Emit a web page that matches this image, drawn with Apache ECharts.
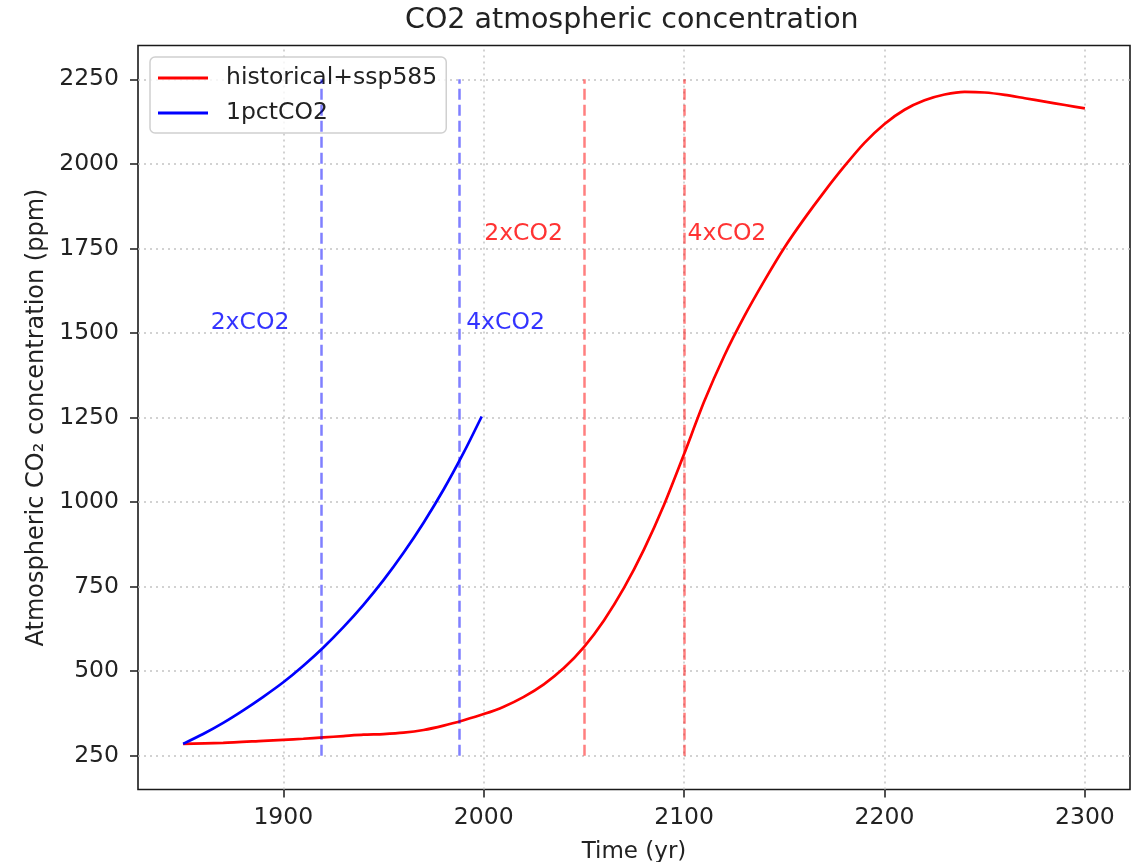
<!DOCTYPE html>
<html>
<head>
<meta charset="utf-8">
<script src="https://cdn.jsdelivr.net/npm/echarts@6/dist/echarts.min.js"></script>
<style>
html,body{margin:0;padding:0;background:#fff;}
#chart{width:1131px;height:862px;}
</style>
</head>
<body>
<div id="chart"></div>
<script>
// ---- data ----
const histYears = [1850,1870,1890,1900,1910,1920,1930,1940,1950,1960,1970,1980,1990,2000,2010,2020,2030,2040,2050,2060,2070,2080,2090,2100,2110,2120,2130,2140,2150,2160,2170,2180,2190,2200,2210,2220,2230,2240,2250,2260,2270,2280,2290,2300];
const histConc  = [285,288,294,297,300,304,308,312,314,318,326,339,355,373,395,424,461,509,571,650,746,860,992,1142,1297,1432,1549,1654,1752,1838,1918,1993,2062,2118,2160,2188,2205,2213,2211,2204,2194,2184,2174,2164];

const pctYears = [1850,1860,1870,1880,1890,1900,1910,1920,1930,1940,1950,1960,1970,1980,1990,1999];
const pctConc  = [285,314,347,384,424,467,516,570,630,696,769,850,939,1037,1146,1253];

const blueMarkYears = [1919, 1988];
const redMarkYears  = [2050, 2100];
const markBottom = 250, markTop = 2250;

const blueLabelX = [1864, 1991.5];
const blueLabelY = 1505;
const redLabelX  = [2000.5, 2102];
const redLabelY  = 1768;
const markLabels = ['2xCO2', '4xCO2'];

const xTicks = [1900, 2000, 2100, 2200, 2300];
const yTicks = [250, 500, 750, 1000, 1250, 1500, 1750, 2000, 2250];
const xMin = 1827.5, xMax = 2322.5, yMin = 150, yMax = 2350;

const seriesNames = ['historical+ssp585', '1pctCO2'];
const seriesColors = ['#ff0000', '#0000ff'];
const titleText = 'CO2 atmospheric concentration';
const xName = 'Time (yr)';
const yName = 'Atmospheric CO₂ concentration (ppm)';

// ---- chart ----
const FONT = 'DejaVu Sans';
const chart = echarts.init(document.getElementById('chart'), null, {renderer: 'canvas'});

const zip = (xs, ys) => xs.map((x, i) => [x, ys[i]]);
const vline = (x) => [{coord: [x, markBottom]}, {coord: [x, markTop]}];

const gridLines = [];
xTicks.forEach(x => gridLines.push([{coord: [x, yMin]}, {coord: [x, yMax]}]));
yTicks.forEach(y => gridLines.push([{coord: [xMin, y]}, {coord: [xMax, y]}]));

const labelData = [
  [blueLabelX[0], blueLabelY, markLabels[0], seriesColors[1]],
  [blueLabelX[1], blueLabelY, markLabels[1], seriesColors[1]],
  [redLabelX[0], redLabelY, markLabels[0], seriesColors[0]],
  [redLabelX[1], redLabelY, markLabels[1], seriesColors[0]]
];

const option = {
  animation: false,
  backgroundColor: '#fff',
  textStyle: {fontFamily: FONT},
  title: {
    text: titleText,
    left: 405, top: 6, padding: 0,
    textStyle: {fontFamily: FONT, fontSize: 28.5, fontWeight: 'normal', color: '#222'}
  },
  grid: {
    left: 138, right: 1, top: 45.5, bottom: 72.5,
    outerBoundsMode: 'none', containLabel: false,
    show: true, borderColor: '#1a1a1a', borderWidth: 1.6, backgroundColor: 'transparent'
  },
  legend: {
    data: seriesNames.map((n, i) => ({
      name: n, icon: 'rect',
      itemStyle: {color: seriesColors[i], borderWidth: 0, opacity: 1},
      lineStyle: {color: seriesColors[i], type: 'solid', width: 3, opacity: 1}
    })),
    orient: 'vertical',
    left: 150, top: 57,
    padding: [8, 9, 7, 8],
    itemGap: 9,
    itemWidth: 50, itemHeight: 3,
    backgroundColor: 'rgba(255,255,255,0.8)',
    borderColor: '#d0d0d0', borderWidth: 1.5, borderRadius: 5,
    textStyle: {fontFamily: FONT, fontSize: 23.5, color: '#222', lineHeight: 26, padding: [0, 0, 0, 13]}
  },
  xAxis: {
    type: 'value', min: xMin, max: xMax,
    name: xName, nameLocation: 'middle', nameGap: 51,
    nameTextStyle: {fontFamily: FONT, fontSize: 23, color: '#222'},
    axisLine: {show: false},
    axisTick: {show: true, inside: false, length: 8, customValues: xTicks, lineStyle: {color: '#1a1a1a', width: 1.5}},
    axisLabel: {show: true, margin: 16, customValues: xTicks, fontFamily: FONT, fontSize: 23.5, color: '#222',
                formatter: v => String(v)},
    splitLine: {show: false}
  },
  yAxis: {
    type: 'value', min: yMin, max: yMax,
    name: yName, nameLocation: 'middle', nameGap: 89, nameRotate: 90,
    nameTextStyle: {fontFamily: FONT, fontSize: 24, color: '#222'},
    axisLine: {show: false},
    axisTick: {show: true, inside: false, length: 8, customValues: yTicks, lineStyle: {color: '#1a1a1a', width: 1.5}},
    axisLabel: {show: true, margin: 19, customValues: yTicks, fontFamily: FONT, fontSize: 23.5, color: '#222',
                formatter: v => String(v)},
    splitLine: {show: false}
  },
  series: [
    {
      name: seriesNames[0], type: 'line', data: zip(histYears, histConc),
      showSymbol: false, symbol: 'none', smooth: 0.25, z: 4,
      lineStyle: {color: seriesColors[0], width: 2.7}, itemStyle: {color: seriesColors[0]},
      markLine: {
        silent: true, symbol: 'none', label: {show: false}, animation: false,
        lineStyle: {color: 'rgba(255,0,0,0.5)', width: 2.5, type: [11, 5]},
        data: redMarkYears.map(vline)
      }
    },
    {
      name: seriesNames[1], type: 'line', data: zip(pctYears, pctConc),
      showSymbol: false, symbol: 'none', smooth: 0.25, z: 4,
      lineStyle: {color: seriesColors[1], width: 2.7}, itemStyle: {color: seriesColors[1]},
      markLine: {
        silent: true, symbol: 'none', label: {show: false}, animation: false,
        lineStyle: {color: 'rgba(0,0,255,0.5)', width: 2.5, type: [11, 5]},
        data: blueMarkYears.map(vline)
      }
    },
    {
      name: '_labels', type: 'scatter', z: 5, silent: true,
      symbolSize: 1, itemStyle: {color: 'rgba(0,0,0,0)'},
      data: labelData.map(d => ({value: [d[0], d[1]], name: d[2], label: {color: d[3]}})),
      label: {
        show: true, position: [0, 0], align: 'left', verticalAlign: 'bottom', offset: [0, 4],
        fontFamily: FONT, fontSize: 23.5, formatter: p => p.name
      }
    },
    {
      name: '_grid', type: 'scatter', data: [], z: 1, silent: true,
      markLine: {
        silent: true, symbol: 'none', label: {show: false}, animation: false, z: 1,
        lineStyle: {color: '#c4c4c4', width: 1.5, type: [2, 4]},
        data: gridLines
      }
    }
  ]
};
chart.setOption(option);
</script>
</body>
</html>
